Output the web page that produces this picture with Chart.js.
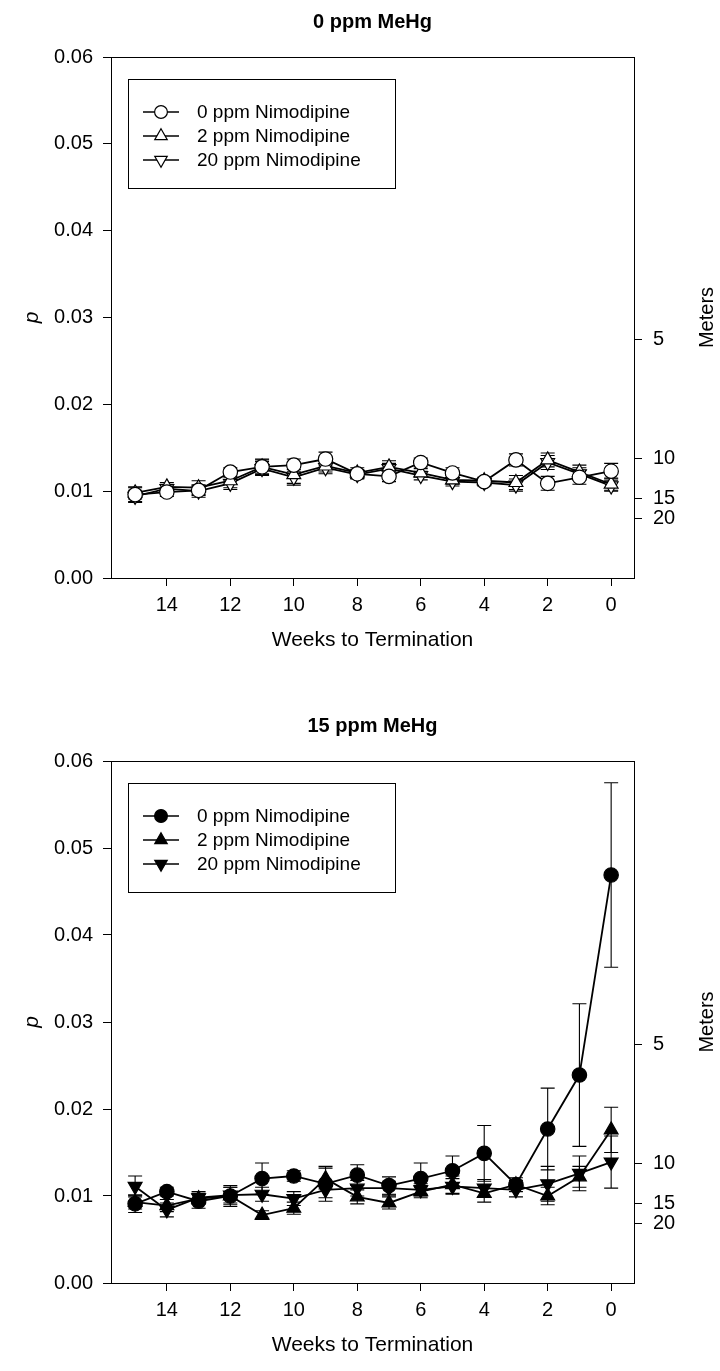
<!DOCTYPE html>
<html>
<head>
<meta charset="utf-8">
<script src="https://cdn.jsdelivr.net/npm/chart.js@4.4.1/dist/chart.umd.min.js"></script>
<style>
  html, body { margin: 0; padding: 0; background: #fff; }
  .panel { position: absolute; left: 0; width: 720px; }
  #panelA { top: 0; height: 704px; }
  #panelB { top: 704px; height: 667px; }
</style>
</head>
<body>
<div class="panel" id="panelA"><canvas id="chartA" width="720" height="704"></canvas></div>
<div class="panel" id="panelB"><canvas id="chartB" width="720" height="667"></canvas></div>
<script>
// Weeks before termination (x values)
const weeks = [15, 14, 13, 12, 11, 10, 9, 8, 7, 6, 5, 4, 3, 2, 1, 0];
const xTicks = [14, 12, 10, 8, 6, 4, 2, 0];
const yTicks = [0, 0.01, 0.02, 0.03, 0.04, 0.05, 0.06];
// Right-hand depth scale, in meters
const meterTicks = [5, 10, 15, 20];
const seriesNames = ['0 ppm Nimodipine', '2 ppm Nimodipine', '20 ppm Nimodipine'];

// 0 ppm MeHg
const ctrlNim0 = [0.0096, 0.0099, 0.0101, 0.0122, 0.0128, 0.0130, 0.0137, 0.0120, 0.0117, 0.0133, 0.0121, 0.0111, 0.0136, 0.0109, 0.0116, 0.0123];
const ctrlNim0Err = [0.0008, 0.0005, 0.0006, 0.0005, 0.0008, 0.0007, 0.0008, 0.0005, 0.0006, 0.0005, 0.0006, 0.0004, 0.0007, 0.0008, 0.0008, 0.0009];
const ctrlNim2 = [0.0098, 0.0105, 0.0104, 0.0112, 0.0128, 0.0119, 0.0129, 0.0121, 0.0128, 0.0121, 0.0113, 0.0112, 0.0110, 0.0136, 0.0122, 0.0108];
const ctrlNim2Err = [0.0007, 0.0005, 0.0008, 0.0008, 0.0009, 0.0010, 0.0007, 0.0006, 0.0007, 0.0005, 0.0005, 0.0004, 0.0008, 0.0008, 0.0008, 0.0007];
const ctrlNim20 = [0.0094, 0.0103, 0.0100, 0.0109, 0.0126, 0.0116, 0.0127, 0.0119, 0.0126, 0.0118, 0.0111, 0.0110, 0.0107, 0.0133, 0.0120, 0.0106];
const ctrlNim20Err = [0.0007, 0.0005, 0.0007, 0.0007, 0.0008, 0.0009, 0.0007, 0.0005, 0.0006, 0.0005, 0.0005, 0.0004, 0.0007, 0.0008, 0.0007, 0.0006];

// 15 ppm MeHg
const mehgNim0 = [0.0091, 0.0105, 0.0094, 0.0100, 0.0120, 0.0123, 0.0114, 0.0124, 0.0112, 0.0120, 0.0129, 0.0149, 0.0113, 0.0177, 0.0239, 0.0469];
const mehgNim0Err = [0.0010, 0.0005, 0.0008, 0.0012, 0.0018, 0.0006, 0.0020, 0.0012, 0.0010, 0.0018, 0.0017, 0.0032, 0.0005, 0.0047, 0.0082, 0.0106];
const mehgNim2 = [0.0093, 0.0089, 0.0097, 0.0100, 0.0078, 0.0086, 0.0120, 0.0099, 0.0092, 0.0105, 0.0113, 0.0103, 0.0113, 0.0100, 0.0122, 0.0176];
const mehgNim2Err = [0.0008, 0.0007, 0.0006, 0.0010, 0.0005, 0.0007, 0.0012, 0.0008, 0.0007, 0.0007, 0.0010, 0.0010, 0.0008, 0.0010, 0.0012, 0.0026];
const mehgNim20 = [0.0111, 0.0084, 0.0098, 0.0101, 0.0102, 0.0097, 0.0107, 0.0109, 0.0109, 0.0107, 0.0111, 0.0109, 0.0107, 0.0114, 0.0126, 0.0139];
const mehgNim20Err = [0.0012, 0.0008, 0.0007, 0.0009, 0.0008, 0.0008, 0.0009, 0.0009, 0.0008, 0.0007, 0.0009, 0.0010, 0.0008, 0.0020, 0.0020, 0.0030];

// p value that corresponds to a given depth on the right axis
const DEPTH_CONST = 0.1372;

const FONT = "'Liberation Sans', Arial, Helvetica, sans-serif";

const pointStyles = [
  { pointStyle: 'circle', radius: 7.2, rotation: 0 },
  { pointStyle: 'triangle', radius: 8, rotation: 0 },
  { pointStyle: 'triangle', radius: 8, rotation: 180 }
];

// Vertical error bars with caps, drawn beneath the symbols
const errorBarPlugin = {
  id: 'errorBars',
  beforeDatasetsDraw(chart) {
    const { ctx } = chart;
    const xs = chart.scales.x, ys = chart.scales.y;
    ctx.save();
    ctx.strokeStyle = '#000';
    ctx.lineWidth = 1.1;
    chart.data.datasets.forEach(ds => {
      ds.data.forEach((pt, i) => {
        const e = ds.errorBars[i];
        const px = xs.getPixelForValue(pt.x);
        const yTop = ys.getPixelForValue(pt.y + e);
        const yBot = ys.getPixelForValue(pt.y - e);
        ctx.beginPath();
        ctx.moveTo(px, yTop); ctx.lineTo(px, yBot);
        ctx.moveTo(px - 7, yTop); ctx.lineTo(px + 7, yTop);
        ctx.moveTo(px - 7, yBot); ctx.lineTo(px + 7, yBot);
        ctx.stroke();
      });
    });
    ctx.restore();
  }
};

// Box around the plotting area
const framePlugin = {
  id: 'frame',
  beforeDatasetsDraw(chart) {
    const { ctx, chartArea: a } = chart;
    ctx.save();
    ctx.strokeStyle = '#000';
    ctx.lineWidth = 1;
    ctx.strokeRect(Math.round(a.left) + 0.5, Math.round(a.top) + 0.5,
                   Math.round(a.right - a.left), Math.round(a.bottom - a.top));
    ctx.restore();
  }
};

// Panel heading centred over the plotting area, and the right axis title
const headingPlugin = {
  id: 'heading',
  afterDraw(chart, args, opts) {
    const { ctx, chartArea: a } = chart;
    ctx.save();
    ctx.fillStyle = '#000';
    ctx.textAlign = 'center';
    ctx.textBaseline = 'middle';
    ctx.font = 'bold 20px ' + FONT;
    ctx.fillText(opts.text, (a.left + a.right) / 2, 22);
    ctx.translate(707, (a.top + a.bottom) / 2);
    ctx.rotate(-Math.PI / 2);
    ctx.font = '20px ' + FONT;
    ctx.fillText('Meters', 0, 0);
    ctx.restore();
  }
};

// Boxed legend inside the plotting area
const boxLegendPlugin = {
  id: 'boxLegend',
  afterDraw(chart) {
    const { ctx } = chart;
    const box = { left: 128, top: 79, right: 395, bottom: 188 };
    ctx.save();
    ctx.fillStyle = '#fff';
    ctx.fillRect(box.left, box.top, box.right - box.left, box.bottom - box.top);
    ctx.strokeStyle = '#000';
    ctx.lineWidth = 1;
    ctx.strokeRect(box.left + 0.5, box.top + 0.5, box.right - box.left, box.bottom - box.top);
    chart.data.datasets.forEach((ds, i) => {
      const y = 112 + i * 24;
      ctx.strokeStyle = '#000';
      ctx.lineWidth = 1.5;
      ctx.beginPath();
      ctx.moveTo(143, y); ctx.lineTo(179, y);
      ctx.stroke();
      const ps = pointStyles[i];
      ctx.fillStyle = ds.pointBackgroundColor;
      ctx.strokeStyle = '#000';
      ctx.lineWidth = 1.2;
      Chart.helpers.drawPoint(ctx, {
        pointStyle: ps.pointStyle, radius: ps.radius - 0.8, rotation: ps.rotation, borderWidth: 1.2
      }, 161, y);
      ctx.fillStyle = '#000';
      ctx.font = '19px ' + FONT;
      ctx.textAlign = 'left';
      ctx.textBaseline = 'middle';
      ctx.fillText(ds.label, 197, y + 1);
    });
    ctx.restore();
  }
};

function makeChart(canvasId, titleText, values, errors, filled, xAxisHeight, xTitlePad) {
  const datasets = values.map((vals, i) => ({
    label: seriesNames[i],
    data: weeks.map((w, j) => ({ x: w, y: vals[j] })),
    errorBars: errors[i],
    borderColor: '#000',
    borderWidth: 1.8,
    pointStyle: pointStyles[i].pointStyle,
    pointRadius: pointStyles[i].radius,
    pointRotation: pointStyles[i].rotation,
    pointBorderWidth: 1.2,
    pointBorderColor: '#000',
    pointBackgroundColor: filled ? '#000' : '#fff',
    pointHoverRadius: pointStyles[i].radius,
    tension: 0,
    fill: false
  }));

  const tickFont = { family: FONT, size: 20 };
  const axisTitleFont = { family: FONT, size: 21 };

  return new Chart(document.getElementById(canvasId), {
    type: 'line',
    data: { datasets },
    options: {
      responsive: false,
      animation: false,
      devicePixelRatio: 1,
      layout: { padding: { top: 57, left: 0, right: 0, bottom: 0 } },
      plugins: {
        legend: { display: false },
        tooltip: { enabled: false },
        title: { display: false },
        heading: { text: titleText }
      },
      scales: {
        x: {
          type: 'linear',
          reverse: true,
          min: -0.72,
          max: 15.76,
          border: { display: false },
          grid: { display: true, drawOnChartArea: false, drawTicks: true, tickLength: 8, color: '#000' },
          ticks: { color: '#000', font: tickFont, padding: 7, autoSkip: false, maxRotation: 0 },
          afterBuildTicks: s => { s.ticks = xTicks.map(v => ({ value: v })); },
          afterFit: s => { s.height = xAxisHeight; },
          title: {
            display: true, text: 'Weeks to Termination', color: '#000',
            font: axisTitleFont, padding: { top: 0, bottom: xTitlePad }
          }
        },
        y: {
          type: 'linear',
          position: 'left',
          min: 0,
          max: 0.06,
          border: { display: false },
          grid: { display: true, drawOnChartArea: false, drawTicks: true, tickLength: 8, color: '#000' },
          ticks: {
            color: '#000', font: tickFont, padding: 10, autoSkip: false,
            callback: v => v.toFixed(2)
          },
          afterBuildTicks: s => { s.ticks = yTicks.map(v => ({ value: v })); },
          afterFit: s => { s.width = 111; },
          title: {
            display: true, text: 'p', color: '#000',
            font: { family: FONT, size: 21, style: 'italic' }, padding: { top: 20, bottom: 0 }
          }
        },
        y2: {
          type: 'linear',
          position: 'right',
          min: 0,
          max: 0.06,
          border: { display: false },
          grid: { display: true, drawOnChartArea: false, drawTicks: true, tickLength: 8, color: '#000' },
          ticks: {
            color: '#000', font: tickFont, padding: 11, autoSkip: false,
            callback: (v, i) => String(meterTicks[i])
          },
          afterBuildTicks: s => { s.ticks = meterTicks.map(m => ({ value: DEPTH_CONST / m })); },
          afterFit: s => { s.width = 86; }
        }
      }
    },
    plugins: [framePlugin, errorBarPlugin, headingPlugin, boxLegendPlugin]
  });
}

makeChart('chartA', '0 ppm MeHg',
  [ctrlNim0, ctrlNim2, ctrlNim20], [ctrlNim0Err, ctrlNim2Err, ctrlNim20Err], false, 126, 51);
makeChart('chartB', '15 ppm MeHg',
  [mehgNim0, mehgNim2, mehgNim20], [mehgNim0Err, mehgNim2Err, mehgNim20Err], true, 88, 13);
</script>
</body>
</html>
